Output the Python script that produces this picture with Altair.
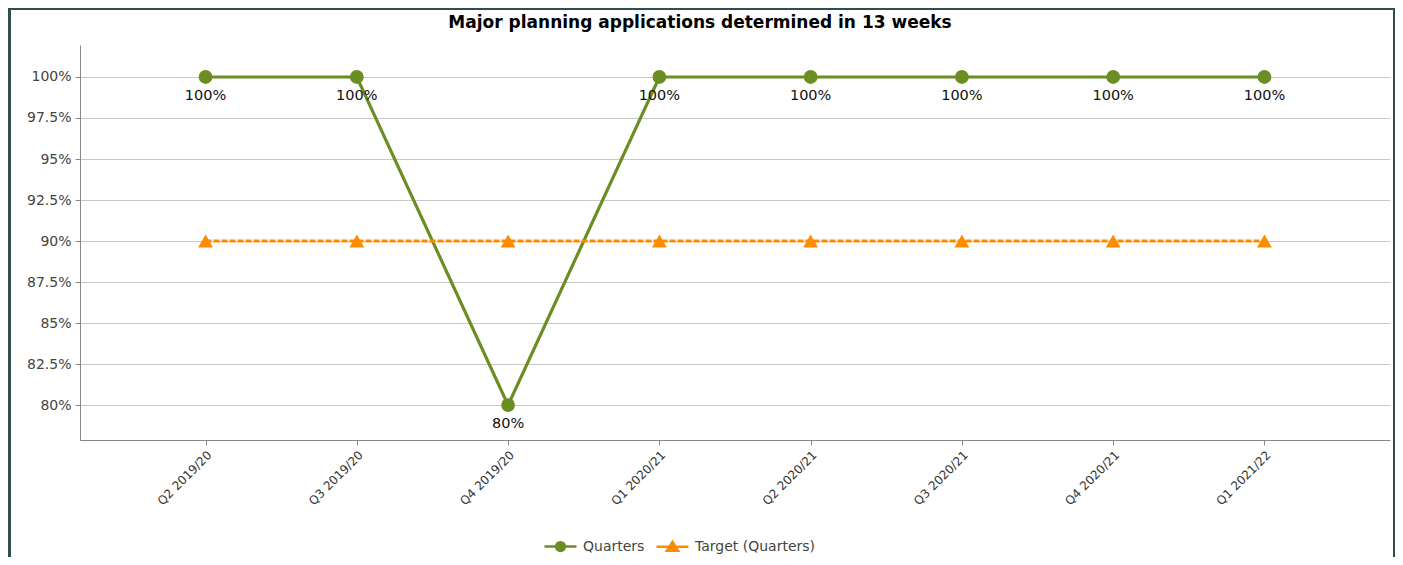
import altair as alt
import pandas as pd

quarters = ["Q2 2019/20", "Q3 2019/20", "Q4 2019/20", "Q1 2020/21",
            "Q2 2020/21", "Q3 2020/21", "Q4 2020/21", "Q1 2021/22"]
actual = [100, 100, 80, 100, 100, 100, 100, 100]
target = [90, 90, 90, 90, 90, 90, 90, 90]
series_names = ["Quarters", "Target (Quarters)"]
colors = ["#6b8e23", "#ff8c00"]
y_ticks = [80, 82.5, 85, 87.5, 90, 92.5, 95, 97.5, 100]
title_text = "Major planning applications determined in 13 weeks"

df_actual = pd.DataFrame({"quarter": quarters, "value": actual, "series": series_names[0]})
df_target = pd.DataFrame({"quarter": quarters, "value": target, "series": series_names[1]})
df = pd.concat([df_actual, df_target], ignore_index=True)

FONT = "DejaVu Sans"

x = alt.X("quarter:N", sort=quarters, title=None,
          scale=alt.Scale(type="point", padding=0.83),
          axis=alt.Axis(labelAngle=-45, labelFontSize=12, labelColor="#333333",
                        labelFont=FONT, tickSize=5, tickColor="#888888",
                        domainColor="#888888", grid=False, labelPadding=4))
y = alt.Y("value:Q", title=None,
          scale=alt.Scale(domain=[77.87, 101.95], nice=False, zero=False),
          axis=alt.Axis(values=y_ticks, labelExpr="datum.value + '%'",
                        labelFontSize=14, labelColor="#444444", labelFont=FONT,
                        tickSize=5, tickColor="#888888", domainColor="#888888",
                        gridColor="#c8c8c8", labelPadding=4))

line_actual = alt.Chart(df_actual).mark_line(strokeWidth=3.2, color=colors[0]).encode(x=x, y=y)
line_target = alt.Chart(df_target).mark_line(strokeWidth=3, color=colors[1], strokeDash=[6, 2]).encode(x=x, y=y)
pts_actual = alt.Chart(df_actual).mark_point(filled=True, opacity=1, shape="circle", size=190,
                                             color=colors[0]).encode(x=x, y=y)
pts_target = alt.Chart(df_target).mark_point(filled=True, opacity=1, shape="triangle-up", size=220,
                                             color=colors[1]).encode(x=x, y=y)

labels = alt.Chart(df_actual).mark_text(dy=19, fontSize=14.5, font=FONT, color="#111111").encode(
    x=x, y=y, text=alt.Text("label:N"),
).transform_calculate(label="datum.value + '%'")

circle_path = "M-2,0H-0.55M0.55,0H2M0.55,0A0.55,0.55 0 1,1 -0.55,0A0.55,0.55 0 1,1 0.55,0Z"
tri_path = "M-2,0H2M0,-0.6L0.7,0.5L-0.7,0.5Z"
cscale = alt.Scale(domain=series_names, range=colors)

legend_layer = alt.Chart(df).transform_filter("false").mark_point(
    filled=True, strokeWidth=2.5, opacity=1, size=256).encode(
    x=x, y=y,
    color=alt.Color("series:N", scale=cscale, title=None,
                    legend=alt.Legend(orient="none", legendX=471, legendY=492, direction="horizontal",
                                      symbolSize=256, labelFontSize=14, labelFont=FONT,
                                      labelColor="#444444", columnPadding=6, labelOffset=13,
                                      symbolStrokeWidth=2.5)),
    stroke=alt.Stroke("series:N", scale=cscale, title=None),
    shape=alt.Shape("series:N", title=None, scale=alt.Scale(domain=series_names, range=[circle_path, tri_path])),
)

title_df = pd.DataFrame({"t": [title_text]})
title_mark = alt.Chart(title_df).mark_text(fontSize=17, font=FONT, fontWeight="bold", color="#000000",
                                           baseline="middle", align="center").encode(
    text="t:N", x=alt.value(620), y=alt.value(-22))

frame_color = "#2f4f4f"
one = df_actual.head(1)
top_border = alt.Chart(one).mark_rule(color=frame_color, strokeWidth=2).encode(
    x=alt.value(-72), x2=alt.value(1316), y=alt.value(-36))
left_border = alt.Chart(one).mark_rule(color=frame_color, strokeWidth=3).encode(
    x=alt.value(-70.5), y=alt.value(-37), y2=alt.value(530))
right_border = alt.Chart(one).mark_rule(color=frame_color, strokeWidth=2).encode(
    x=alt.value(1314), y=alt.value(-37), y2=alt.value(530))

chart = alt.layer(line_actual, line_target, pts_actual, pts_target, labels, legend_layer,
                  title_mark, top_border, left_border, right_border).properties(
    width=1310, height=395,
    padding={"left": 72, "top": 37, "right": 5, "bottom": 117},
    autosize=alt.AutoSizeParams(type="none"),
    background="white",
).configure_view(stroke=None)

chart.save("out.html", embed_options={"renderer": "svg", "actions": False})
